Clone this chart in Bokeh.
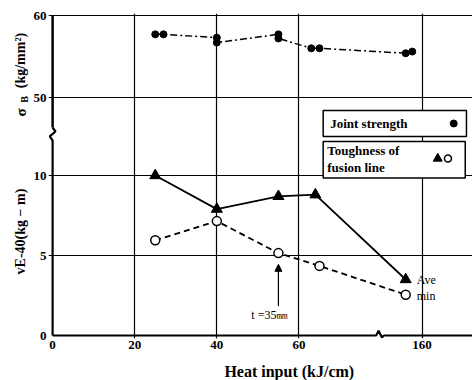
import math
from bokeh.plotting import figure
from bokeh.layouts import row, column
from bokeh.models import FixedTicker, Label, Arrow, NormalHead, Range1d
from bokeh.embed import file_html
from bokeh.resources import INLINE

# ---------------- data ----------------
ave_heat = [25, 40, 55, 64, 150]
ave_ve = [10.0, 7.9, 8.7, 8.8, 3.5]
min_heat = [25, 40, 55, 65, 150]
min_ve = [5.95, 7.15, 5.15, 4.35, 2.55]
js_heat = [25, 27, 40, 40, 55, 55, 63, 65, 150, 154]
js_sigma = [57.7, 57.7, 57.3, 56.7, 57.7, 57.2, 56.0, 56.0, 55.4, 55.6]
x_tick_values = [0, 20, 40, 60, 160]
ve_tick_values = [0, 5, 10]
sigma_tick_values = [50, 60]

FONT = "Liberation Serif"


def hx(h):
    """broken heat-input axis: linear up to ~80, then 160 sits at 90"""
    return h if h <= 100 else 90 + (h - 160) * 0.4


def sy(s):
    """upper panel (sigma_B) mapped onto the shared vertical scale"""
    return 20 - (60 - s) * 0.5125


LEFT_W = 30
MAIN_H = 358
BOT_H = 380 - MAIN_H

p = figure(width=472 - LEFT_W, height=MAIN_H, output_backend="svg", toolbar_location=None,
           x_range=Range1d(-1, 102.27), y_range=Range1d(-0.1875, 20.125),
           min_border_left=16, min_border_right=0, min_border_top=13,
           min_border_bottom=20)
p.outline_line_color = None
p.background_fill_color = "white"
p.border_fill_color = "white"

# axes
p.xaxis.ticker = FixedTicker(ticks=[hx(v) for v in x_tick_values])
p.xaxis.major_label_overrides = {hx(v): str(v) for v in x_tick_values}
yt = list(ve_tick_values) + [sy(v) for v in sigma_tick_values]
p.yaxis.ticker = FixedTicker(ticks=yt)
ov = {v: str(v) for v in ve_tick_values}
ov.update({sy(v): str(v) for v in sigma_tick_values})
p.yaxis.major_label_overrides = ov
for ax in (p.xaxis[0], p.yaxis[0]):
    ax.axis_line_color = None
    ax.major_tick_line_color = None
    ax.minor_tick_line_color = None
    ax.major_tick_out = 0
    ax.major_tick_in = 0
    ax.minor_tick_out = 0
    ax.minor_tick_in = 0
    ax.major_label_text_font = FONT
    ax.major_label_text_font_size = "13px"
    ax.major_label_text_font_style = "bold"
    ax.major_label_text_color = "black"
p.xaxis.major_label_standoff = 2
p.yaxis.major_label_standoff = 2

# grid
p.xgrid.ticker = FixedTicker(ticks=[hx(v) for v in x_tick_values[1:]])
p.ygrid.ticker = FixedTicker(ticks=[5, 10, sy(50), sy(60)])
for g in (p.xgrid[0], p.ygrid[0]):
    g.grid_line_color = "black"
    g.grid_line_width = 1.2
    g.grid_line_alpha = 1.0

# axis lines with breaks
p.line([0, 0], [13.0, 20.0], line_color="black", line_width=2.5)
p.line([0, 0, -0.7, 0.7, 0], [0, 12.2, 12.45, 12.75, 13.0], line_color="black", line_width=2.2)
p.line([0, 78.8, 79.4, 80.2, 80.7, 102.3], [0, 0, 0.3, -0.12, 0, 0], line_color="black", line_width=2.2)

# legend boxes
p.quad(left=[65.9], right=[100.8], top=[14.06], bottom=[12.44],
       fill_color="white", line_color="black", line_width=1.5)
p.quad(left=[65.9], right=[100.5], top=[12.13], bottom=[9.85],
       fill_color="white", line_color="black", line_width=1.5)

# joint strength (upper)
jx = [hx(h) for h in js_heat]
jy = [sy(s) for s in js_sigma]
p.line(jx, jy, line_color="black", line_width=1.5, line_dash="7 3 2 3")
p.scatter(jx, jy, marker="circle", size=7, fill_color="black", line_color="black")

# toughness: average
ax_ = [hx(h) for h in ave_heat]
p.line(ax_, ave_ve, line_color="black", line_width=1.8)
p.scatter(ax_, ave_ve, marker="triangle", size=11, fill_color="black", line_color="black")

# toughness: minimum
mx = [hx(h) for h in min_heat]
p.line(mx, min_ve, line_color="black", line_width=1.8, line_dash="6 4")
p.scatter(mx, min_ve, marker="circle", size=9, fill_color="white", line_color="black", line_width=1.5)

# legend symbols
p.scatter([97.7], [13.25], marker="circle", size=7, fill_color="black", line_color="black")
p.scatter([93.8], [11.06], marker="triangle", size=9, fill_color="black", line_color="black")
p.scatter([96.3], [11.06], marker="circle", size=7, fill_color="white", line_color="black", line_width=1.5)


def lab(fig, x, y, text, size="13px", align="left", angle=0.0, style="bold", baseline="middle"):
    fig.add_layout(Label(x=x, y=y, text=text, text_font=FONT, text_font_size=size,
                         text_font_style=style, text_color="black", text_align=align,
                         text_baseline=baseline, angle=angle))


lab(p, 67.6, 13.25, "Joint strength")
lab(p, 66.9, 11.58, "Toughness of")
lab(p, 66.9, 10.5, "fusion line")
lab(p, 88.7, 3.5, "Ave", size="12px", style="normal")
lab(p, 88.7, 2.5, "min", size="12px", style="normal")
lab(p, 48.4, 1.31, "t =35㎜", size="12px", style="normal")

p.add_layout(Arrow(end=NormalHead(size=7, fill_color="black", line_color="black"),
                   x_start=55, y_start=1.85, x_end=55, y_end=4.45,
                   line_color="black", line_width=1.2))


def strip(w, h, x0):
    f = figure(width=w, height=h, output_backend="svg", toolbar_location=None,
               x_range=Range1d(x0, x0 + w), y_range=Range1d(0, h),
               min_border_left=0, min_border_right=0, min_border_top=0, min_border_bottom=0,
               x_axis_location=None, y_axis_location=None)
    f.outline_line_color = None
    f.grid.visible = False
    f.background_fill_color = "white"
    f.border_fill_color = "white"
    return f


# ---------------- left strip with the two vertical axis titles ----------------
q = strip(LEFT_W, 380, 0)
lab(q, 20, 380 - 231, "vE-40(kg − m)", size="14px", align="center", angle=math.pi / 2)
lab(q, 20, 380 - 112, "σ", size="15px", align="center", angle=math.pi / 2)
lab(q, 23.5, 380 - 99, "B", size="10px", align="center", angle=math.pi / 2)
lab(q, 20, 380 - 60, "(kg/mm²)", size="14px", align="center", angle=math.pi / 2)

# ---------------- bottom strip with the horizontal axis title ----------------
b = strip(472 - LEFT_W, BOT_H, LEFT_W)
lab(b, 281, 9.5, "Heat input (kJ/cm)", size="16px", align="center", baseline="middle")

layout = row(q, column(p, b))
open("out.html", "w").write(file_html(layout, INLINE))
